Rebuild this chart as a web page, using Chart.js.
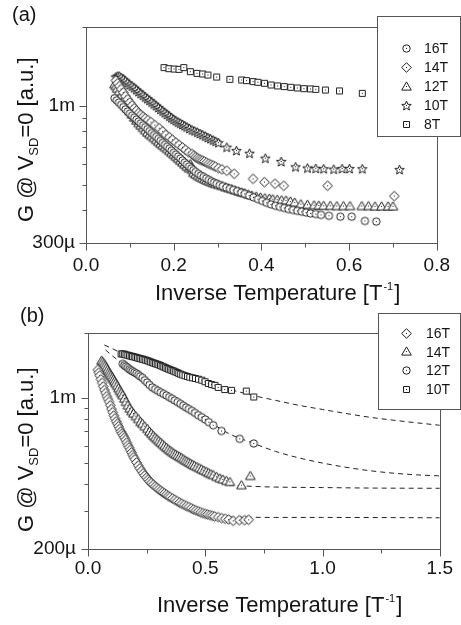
<!DOCTYPE html>
<html>
<head>
<meta charset="utf-8">
<script src="https://cdn.jsdelivr.net/npm/chart.js@4"></script>
<style>
  html, body { margin: 0; padding: 0; background: #fff; }
  #wrap { position: relative; width: 461px; height: 625px; overflow: hidden; }
  canvas { position: absolute; left: 0; }
</style>
</head>
<body>
<div id="wrap">
  <canvas id="chartA" width="461" height="310" style="top:0"></canvas>
  <canvas id="chartB" width="461" height="329" style="top:296px"></canvas>
</div>
<script>
// ---- panel (a): G (in m units) vs inverse temperature ----
const aSeries = ['16T', '14T', '12T', '10T', '8T'];

const a16x = [0.065,0.070,0.075,0.080,0.085,0.090,0.095,0.100,0.105,0.110,0.115,0.120,0.125,0.130,0.135,0.140,0.145,0.150,0.155,0.160,0.165,0.170,0.175,0.180,0.185,0.190,0.195,0.200,0.205,0.210,0.215,0.220,0.225,0.230,0.235,0.240,0.245,0.250,
  0.256,0.262,0.268,0.274,0.280,0.286,0.292,0.298,0.305,0.312,0.320,0.328,0.336,0.345,0.354,0.362,
  0.372,0.382,0.392,0.402,0.412,0.422,0.432,0.442,0.452,0.462,0.472,0.482,0.492,0.502,0.512,0.524,0.536,0.554,0.580,0.606,0.636,0.662];
const a16y = [1.07,1.05,1.03,1.01,0.99,0.97,0.952,0.935,0.918,0.902,0.887,0.872,0.858,0.844,0.830,0.816,0.802,0.788,0.775,0.762,0.749,0.736,0.723,0.711,0.699,0.687,0.675,0.663,0.652,0.641,0.630,0.619,0.608,0.598,0.588,0.578,0.569,0.560,
  0.551,0.543,0.536,0.529,0.522,0.516,0.510,0.505,0.499,0.494,0.488,0.483,0.478,0.473,0.467,0.462,
  0.455,0.448,0.441,0.434,0.427,0.421,0.416,0.412,0.408,0.404,0.401,0.398,0.395,0.392,0.389,0.387,0.384,0.381,0.378,0.378,0.364,0.362];

const a14x = [0.068,0.072,0.076,0.080,0.085,0.090,0.095,0.100,0.105,0.110,0.115,0.120,0.125,0.130,0.135,
  0.141,0.148,0.157,0.167,0.175,0.182,0.190,0.197,0.205,0.212,0.220,0.227,0.234,
  0.242,0.246,0.250,0.254,0.258,0.262,0.266,0.270,
  0.275,0.280,0.285,0.290,0.295,0.302,0.310,0.321,0.338,
  0.381,0.407,0.431,0.451,0.551,0.703];
const a14y = [1.25,1.22,1.19,1.16,1.125,1.09,1.06,1.03,1.005,0.98,0.96,0.94,0.925,0.91,0.896,
  0.883,0.868,0.845,0.822,0.80,0.776,0.76,0.743,0.726,0.710,0.695,0.680,0.666,
  0.656,0.646,0.638,0.632,0.627,0.622,0.618,0.614,
  0.608,0.602,0.597,0.592,0.587,0.579,0.573,0.566,0.551,
  0.527,0.512,0.505,0.496,0.496,0.453];

const a12x = [0.065,0.068,0.071,
  0.075,0.080,0.085,0.090,0.095,0.100,0.105,0.110,0.115,0.120,0.125,0.130,0.135,0.140,0.145,0.150,0.155,0.160,0.165,0.170,0.175,0.180,0.185,0.190,0.195,0.200,0.205,0.210,0.215,0.220,0.225,0.230,0.235,
  0.238,0.240,0.242,0.245,
  0.250,0.255,0.260,0.265,0.270,0.275,0.280,0.285,0.290,0.295,
  0.302,0.310,0.318,0.325,0.332,0.340,0.348,0.355,0.362,0.370,0.378,
  0.388,0.398,0.408,0.418,0.426,0.436,0.446,0.456,0.466,0.476,0.490,
  0.505,0.520,0.531,0.542,0.557,0.572,0.587,0.602,
  0.629,0.644,0.659,0.674,0.689,0.700];
const a12y = [1.21,1.19,1.165,
  1.135,1.095,1.055,1.02,0.985,0.955,0.928,0.903,0.88,0.86,0.842,0.825,0.808,0.792,0.78,0.768,0.755,0.742,0.73,0.718,0.707,0.696,0.685,0.674,0.663,0.652,0.641,0.630,0.619,0.609,0.598,0.588,0.578,
  0.60,0.585,0.57,0.556,
  0.548,0.541,0.535,0.53,0.525,0.52,0.516,0.512,0.508,0.504,
  0.500,0.495,0.490,0.486,0.482,0.477,0.472,0.468,0.465,0.460,0.456,
  0.452,0.448,0.445,0.443,0.441,0.439,0.437,0.436,0.432,0.428,0.422,
  0.420,0.418,0.417,0.416,0.416,0.415,0.415,0.415,
  0.415,0.415,0.414,0.414,0.414,0.414];

const a10x = [0.068,0.072,0.076,
  0.080,0.085,0.090,0.095,0.100,0.105,0.110,0.115,0.120,0.125,0.130,0.135,0.140,0.145,0.150,0.155,0.160,0.165,0.170,0.175,0.180,0.185,0.190,0.195,0.200,0.205,0.210,0.215,0.220,0.225,0.230,
  0.236,0.242,0.248,0.254,0.260,0.266,0.272,0.278,0.284,0.290,0.296,0.302,
  0.321,0.343,0.373,0.409,0.445,0.478,0.505,0.524,0.542,0.565,0.584,0.601,0.630,0.715];
const a10y = [1.29,1.30,1.30,
  1.285,1.265,1.245,1.225,1.205,1.19,1.172,1.153,1.134,1.116,1.099,1.082,1.066,1.050,1.034,1.018,1.002,0.986,0.971,0.956,0.942,0.928,0.914,0.901,0.889,0.878,0.868,0.859,0.850,0.841,0.831,
  0.821,0.810,0.803,0.794,0.785,0.776,0.767,0.758,0.750,0.741,0.733,0.724,
  0.696,0.676,0.660,0.632,0.614,0.586,0.580,0.578,0.576,0.574,0.577,0.577,0.576,0.572];

const a8x = [0.178,0.189,0.201,0.212,0.223,0.238,0.253,0.266,0.278,0.298,0.328,0.355,0.366,0.381,0.392,0.407,0.422,0.437,0.452,0.467,0.482,0.497,0.512,0.524,0.546,0.578,0.630];
const a8y = [1.40,1.387,1.383,1.379,1.40,1.351,1.331,1.324,1.312,1.289,1.263,1.256,1.249,1.238,1.231,1.220,1.202,1.192,1.185,1.178,1.171,1.164,1.161,1.157,1.150,1.141,1.117];

const aXTicks = [0, 0.1, 0.2, 0.3, 0.4, 0.5, 0.6, 0.7, 0.8];
const aXLabels = ['0.0', '', '0.2', '', '0.4', '', '0.6', '', '0.8'];
const aYTicks = [0.3, 0.4, 0.5, 0.6, 0.7, 0.8, 0.9, 1, 2];
const aYLabels = ['300\u00b5', '', '', '', '', '', '', '1m', ''];

// ---- panel (b) ----
const bSeries = ['16T', '14T', '12T', '10T'];

const b16x = [0.042,0.046,0.050,
  0.055,0.060,0.065,0.070,0.075,0.080,0.085,0.090,0.095,0.100,0.105,0.110,0.115,0.120,0.125,0.130,0.135,0.140,0.145,0.150,0.155,0.160,0.165,0.170,0.175,0.180,0.185,0.190,0.195,0.200,
  0.207,0.214,0.221,0.228,0.235,0.242,0.249,0.256,0.263,0.270,
  0.278,0.286,0.294,0.302,0.310,0.318,0.326,0.334,0.342,0.350,
  0.360,0.370,0.380,0.390,0.400,0.410,0.420,0.430,0.440,0.450,0.460,0.470,0.480,0.490,0.500,0.510,0.520,0.530,0.540,
  0.555,0.570,0.585,0.600,0.619,0.645,0.668,0.685];
const b16y = [1.35,1.31,1.27,
  1.22,1.175,1.13,1.09,1.055,1.02,0.99,0.96,0.925,0.89,0.86,0.83,0.805,0.78,0.76,0.74,0.72,0.70,0.685,0.67,0.655,0.64,0.622,0.605,0.59,0.575,0.56,0.545,0.532,0.52,
  0.503,0.487,0.473,0.46,0.448,0.438,0.428,0.419,0.411,0.404,
  0.397,0.39,0.384,0.378,0.372,0.367,0.362,0.357,0.352,0.348,
  0.343,0.338,0.333,0.328,0.324,0.32,0.316,0.313,0.309,0.305,0.302,0.299,0.296,0.293,0.291,0.289,0.287,0.285,0.283,
  0.281,0.278,0.276,0.274,0.270,0.272,0.272,0.273];

const b14x = [0.058,0.063,0.068,0.073,0.078,0.083,0.088,0.093,0.098,0.103,0.108,0.113,0.118,
  0.124,0.130,0.136,0.142,0.148,
  0.155,0.162,0.170,0.178,0.186,0.194,0.204,0.214,0.224,0.232,0.242,0.253,0.262,
  0.270,0.278,0.286,0.294,0.302,0.310,0.318,0.326,0.334,0.342,0.350,0.358,0.366,0.374,0.382,0.390,0.398,0.406,0.414,0.422,0.430,0.438,0.446,0.454,
  0.464,0.474,0.484,0.494,0.504,0.514,0.524,0.534,
  0.548,0.562,0.575,0.590,0.605,0.654,0.692];
const b14y = [1.49,1.47,1.44,1.41,1.38,1.35,1.32,1.295,1.27,1.245,1.22,1.195,1.17,
  1.14,1.11,1.08,1.055,1.03,
  0.995,0.96,0.925,0.895,0.87,0.848,0.825,0.80,0.775,0.76,0.74,0.72,0.70,
  0.685,0.67,0.657,0.645,0.633,0.622,0.611,0.60,0.59,0.58,0.571,0.563,0.555,0.548,0.541,0.535,0.529,0.522,0.515,0.509,0.503,0.497,0.491,0.486,
  0.48,0.474,0.468,0.462,0.456,0.45,0.445,0.44,
  0.432,0.425,0.42,0.414,0.409,0.395,0.436];

const b12x = [0.148,0.155,0.162,0.169,0.176,0.183,0.190,
  0.198,0.206,0.214,0.222,0.232,0.242,0.252,0.262,
  0.274,0.286,0.298,0.310,0.322,0.334,0.346,0.358,0.370,0.382,0.394,0.406,0.418,0.430,
  0.443,0.456,0.470,0.485,0.500,0.515,0.534,0.569,0.647,0.707];
const b12y = [1.44,1.42,1.40,1.38,1.36,1.345,1.33,
  1.315,1.30,1.28,1.26,1.24,1.21,1.18,1.15,
  1.12,1.10,1.08,1.063,1.045,1.028,1.01,0.993,0.975,0.958,0.94,0.922,0.905,0.89,
  0.872,0.853,0.833,0.815,0.795,0.773,0.748,0.704,0.647,0.616];

const b10x = [0.141,0.148,0.155,0.162,0.170,0.177,0.184,0.190,
  0.197,0.204,0.211,0.218,0.225,0.232,0.239,0.246,0.253,0.260,0.267,0.274,0.281,0.288,0.295,0.302,0.309,0.316,0.323,0.330,0.337,0.344,0.351,0.358,0.365,0.372,
  0.380,0.387,0.395,0.404,0.414,0.424,0.434,0.446,0.458,0.471,0.485,0.499,0.513,0.527,0.541,0.555,
  0.583,0.612,0.675,0.707];
const b10y = [1.60,1.60,1.595,1.585,1.578,1.57,1.563,1.556,
  1.55,1.543,1.535,1.527,1.52,1.513,1.505,1.497,1.489,1.48,1.47,1.46,1.45,1.442,1.434,1.425,1.414,1.403,1.392,1.381,1.371,1.361,1.351,1.342,1.333,1.323,
  1.312,1.30,1.29,1.279,1.268,1.258,1.248,1.24,1.232,1.222,1.21,1.19,1.168,1.155,1.145,1.12,
  1.095,1.085,1.077,1.011];

// dashed fits in panel (b)
const fit10x = [0.07,0.1,0.141,0.2,0.3,0.4,0.5,0.6,0.7,0.8,0.9,1.0,1.1,1.2,1.3,1.4,1.5];
const fit10y = [1.76,1.70,1.62,1.55,1.43,1.29,1.18,1.10,1.03,0.975,0.925,0.885,0.848,0.815,0.79,0.768,0.748];
const fit12x = [0.075,0.1,0.148,0.2,0.3,0.4,0.5,0.6,0.7,0.8,0.9,1.0,1.1,1.2,1.3,1.4,1.5];
const fit12y = [1.67,1.58,1.44,1.31,1.08,0.93,0.80,0.685,0.62,0.566,0.528,0.50,0.478,0.461,0.449,0.441,0.436];
const fit14x = [0.6,0.7,0.8,1.0,1.2,1.5];
const fit14y = [0.395,0.39,0.387,0.385,0.383,0.382];
const fit16x = [0.6,0.8,1.0,1.5];
const fit16y = [0.281,0.28,0.28,0.279];

const bXTicks = [0, 0.25, 0.5, 0.75, 1, 1.25, 1.5];
const bXLabels = ['0.0', '', '0.5', '', '1.0', '', '1.5'];
const bYTicks = [0.2, 0.3, 0.4, 0.5, 0.6, 0.7, 0.8, 0.9, 1, 2];
const bYLabels = ['200\u00b5', '', '', '', '', '', '', '', '1m', ''];

// ---- drawing helpers ----
const FONT = '"Liberation Sans", Arial, Helvetica, sans-serif';
const AXIS = '#555';
const INK = '#141414';
const MARK = '#1e1e1e';

function makeMarker(shape) {
  const s = 13, c = 6.5;
  const cv = document.createElement('canvas');
  cv.width = s; cv.height = s;
  const g = cv.getContext('2d');
  g.fillStyle = '#fff';
  g.strokeStyle = MARK;
  g.lineWidth = 1;
  g.beginPath();
  if (shape === 'circle') {
    g.arc(c, c, 3.7, 0, Math.PI * 2);
  } else if (shape === 'square') {
    g.rect(c - 3, c - 3, 6, 6);
  } else if (shape === 'diamond') {
    g.moveTo(c, c - 4.8); g.lineTo(c + 4.8, c); g.lineTo(c, c + 4.8); g.lineTo(c - 4.8, c); g.closePath();
  } else if (shape === 'triangle') {
    g.moveTo(c, c - 4.6); g.lineTo(c + 4.8, c + 3.6); g.lineTo(c - 4.8, c + 3.6); g.closePath();
  } else if (shape === 'star') {
    for (let i = 0; i < 10; i++) {
      const r = i % 2 ? 2.2 : 5;
      const t = -Math.PI / 2 + i * Math.PI / 5;
      const px = c + r * Math.cos(t), py = c + 0.5 + r * Math.sin(t);
      i ? g.lineTo(px, py) : g.moveTo(px, py);
    }
    g.closePath();
  }
  g.fill();
  g.stroke();
  g.fillStyle = MARK;
  g.fillRect(6, 6, 1, 1);
  return cv;
}

const MARKERS = {
  circle: makeMarker('circle'),
  diamond: makeMarker('diamond'),
  triangle: makeMarker('triangle'),
  star: makeMarker('star'),
  square: makeMarker('square')
};

function pts(xs, ys) {
  return xs.map((x, i) => ({ x: x, y: ys[i] }));
}

function markerSet(label, xs, ys, shape) {
  return {
    label: label,
    data: pts(xs, ys),
    pointStyle: MARKERS[shape],
    pointRadius: 6,
    showLine: false,
    order: 1
  };
}

function fitSet(xs, ys) {
  return {
    label: 'fit',
    isFit: true,
    data: pts(xs, ys),
    showLine: true,
    pointRadius: 0,
    borderColor: '#222',
    borderWidth: 1,
    borderDash: [5, 4],
    cubicInterpolationMode: 'monotone',
    fill: false,
    order: 10
  };
}

function panelPlugin(p) {
  return {
    id: 'panel',
    afterDraw(chart) {
      const ctx = chart.ctx;
      const a = chart.chartArea;
      const x = chart.scales.x, y = chart.scales.y;
      ctx.save();

      // frame
      ctx.strokeStyle = AXIS;
      ctx.lineWidth = 1;
      ctx.strokeRect(Math.round(a.left) + 0.5, Math.round(a.top) + 0.5,
        Math.round(a.right - a.left), Math.round(a.bottom - a.top));

      // tick marks, long where labelled
      ctx.beginPath();
      p.xTicks.forEach((v, i) => {
        const px = Math.round(x.getPixelForValue(v)) + 0.5;
        const len = p.xLabels[i] ? 7 : 4;
        ctx.moveTo(px, Math.round(a.bottom) + 0.5);
        ctx.lineTo(px, Math.round(a.bottom) + 0.5 + len);
      });
      p.yTicks.forEach((v, i) => {
        const py = Math.round(y.getPixelForValue(v)) + 0.5;
        const len = p.yLabels[i] ? 7 : 4;
        ctx.moveTo(Math.round(a.left) + 0.5, py);
        ctx.lineTo(Math.round(a.left) + 0.5 - len, py);
      });
      ctx.stroke();

      ctx.fillStyle = INK;
      ctx.textAlign = 'left';
      ctx.textBaseline = 'alphabetic';

      // panel letter
      ctx.font = '20px ' + FONT;
      ctx.fillText(p.letter, p.letterX, p.letterY);

      // x title with superscript
      let cx = p.xTitleX;
      ctx.font = '22px ' + FONT;
      ctx.fillText('Inverse Temperature [T', cx, p.xTitleY);
      cx += ctx.measureText('Inverse Temperature [T').width;
      ctx.font = '11px ' + FONT;
      ctx.fillText('-1', cx + 1, p.xTitleY - 10);
      cx += ctx.measureText('-1').width + 2;
      ctx.font = '22px ' + FONT;
      ctx.fillText(']', cx, p.xTitleY);

      // y title with subscript, rotated
      ctx.save();
      ctx.translate(p.yTitleX, p.yTitleY);
      ctx.rotate(-Math.PI / 2);
      let ty = 0;
      ctx.font = '22px ' + FONT;
      ctx.fillText('G @ V', ty, 0);
      ty += ctx.measureText('G @ V').width;
      ctx.font = '13px ' + FONT;
      ctx.fillText('SD', ty, 5);
      ty += ctx.measureText('SD').width;
      ctx.font = '22px ' + FONT;
      ctx.fillText('=0 [a.u.]', ty, 0);
      ctx.restore();

      // legend box
      const L = p.legend;
      ctx.fillStyle = '#fff';
      ctx.fillRect(L.left, L.top, L.width, L.height);
      ctx.strokeStyle = AXIS;
      ctx.strokeRect(L.left + 0.5, L.top + 0.5, L.width, L.height);
      ctx.font = '14px ' + FONT;
      ctx.fillStyle = INK;
      ctx.textBaseline = 'middle';
      const sets = chart.data.datasets.filter(d => !d.isFit);
      sets.forEach((d, i) => {
        const cy = L.row0 + i * L.rowGap;
        const m = d.pointStyle;
        ctx.drawImage(m, Math.round(L.symX - m.width / 2), Math.round(cy - m.height / 2));
        ctx.fillText(d.label, L.textX, cy + 1);
      });

      ctx.restore();
    }
  };
}

function buildChart(id, p) {
  return new Chart(document.getElementById(id), {
    type: 'scatter',
    data: { datasets: p.datasets },
    options: {
      responsive: false,
      animation: false,
      devicePixelRatio: 1,
      events: [],
      layout: { padding: { left: 0, top: p.padTop, right: p.padRight, bottom: 0 } },
      plugins: { legend: { display: false }, tooltip: { enabled: false } },
      scales: {
        x: {
          type: 'linear',
          min: p.xMin, max: p.xMax,
          grid: { display: false, drawTicks: false },
          border: { display: false },
          afterBuildTicks: s => { s.ticks = p.xTicks.map(v => ({ value: v })); },
          afterFit: s => { s.height = p.xAxisHeight; },
          ticks: {
            autoSkip: false, maxRotation: 0, padding: p.xPad,
            color: INK, font: { family: FONT, size: 19 },
            callback: (v, i) => p.xLabels[i]
          }
        },
        y: {
          type: 'logarithmic',
          min: p.yMin, max: p.yMax,
          grid: { display: false, drawTicks: false },
          border: { display: false },
          afterBuildTicks: s => { s.ticks = p.yTicks.map(v => ({ value: v })); },
          afterFit: s => { s.width = p.yAxisWidth; },
          ticks: {
            autoSkip: false, padding: p.yPad,
            color: INK, font: { family: FONT, size: 19 },
            callback: (v, i) => p.yLabels[i]
          }
        }
      }
    },
    plugins: [panelPlugin(p)]
  });
}

buildChart('chartA', {
  datasets: [
    markerSet(aSeries[0], a16x, a16y, 'circle'),
    markerSet(aSeries[1], a14x, a14y, 'diamond'),
    markerSet(aSeries[2], a12x, a12y, 'triangle'),
    markerSet(aSeries[3], a10x, a10y, 'star'),
    markerSet(aSeries[4], a8x, a8y, 'square')
  ],
  xMin: 0, xMax: 0.8, yMin: 0.3, yMax: 2,
  xTicks: aXTicks, xLabels: aXLabels, yTicks: aYTicks, yLabels: aYLabels,
  padTop: 27, padRight: 20, yAxisWidth: 86, xAxisHeight: 67,
  xPad: 11, yPad: 11,
  letter: '(a)', letterX: 12, letterY: 21,
  xTitleX: 155, xTitleY: 300,
  yTitleX: 33, yTitleY: 222,
  legend: { left: 377, top: 16, width: 83, height: 120, row0: 48, rowGap: 19, symX: 406, textX: 424 }
});

buildChart('chartB', {
  datasets: [
    markerSet(bSeries[0], b16x, b16y, 'diamond'),
    markerSet(bSeries[1], b14x, b14y, 'triangle'),
    markerSet(bSeries[2], b12x, b12y, 'circle'),
    markerSet(bSeries[3], b10x, b10y, 'square'),
    fitSet(fit10x, fit10y),
    fitSet(fit12x, fit12y),
    fitSet(fit14x, fit14y),
    fitSet(fit16x, fit16y)
  ],
  xMin: 0, xMax: 1.5, yMin: 0.2, yMax: 2,
  xTicks: bXTicks, xLabels: bXLabels, yTicks: bYTicks, yLabels: bYLabels,
  padTop: 37, padRight: 17, yAxisWidth: 88, xAxisHeight: 76,
  xPad: 8, yPad: 12,
  letter: '(b)', letterX: 20, letterY: 26,
  xTitleX: 157, xTitleY: 316,
  yTitleX: 33, yTitleY: 236,
  legend: { left: 378, top: 17, width: 82, height: 96, row0: 37, rowGap: 18.7, symX: 406, textX: 426 }
});
</script>
</body>
</html>
